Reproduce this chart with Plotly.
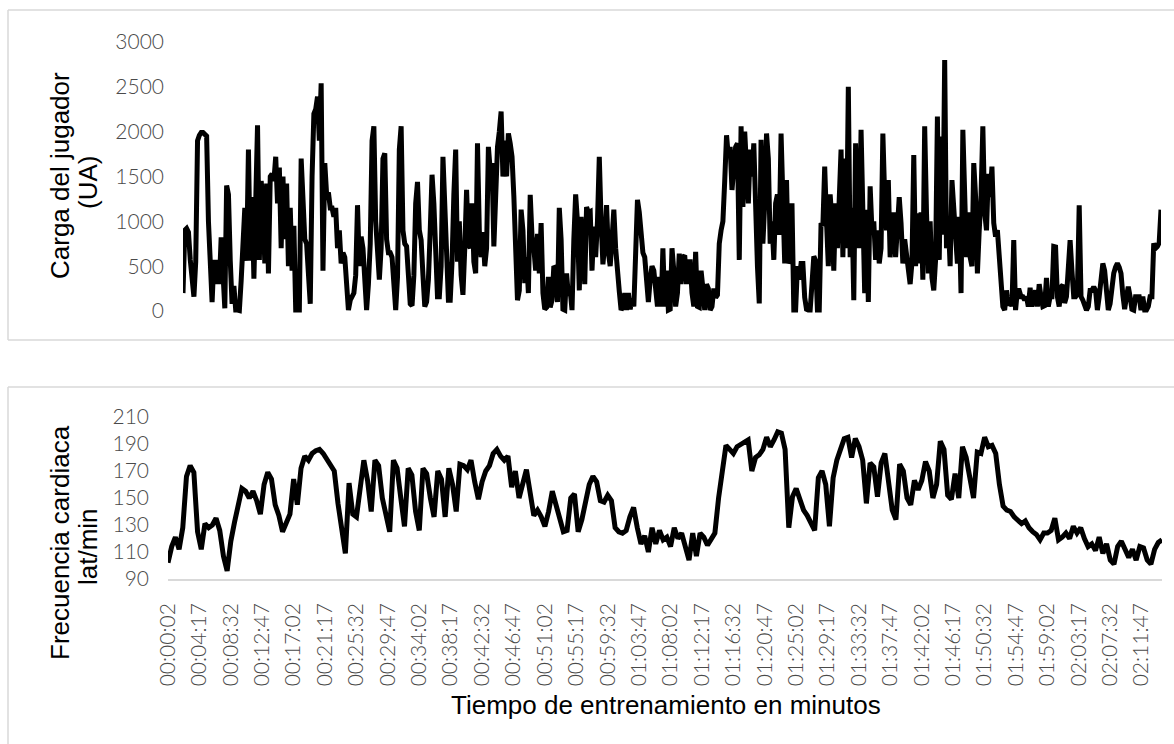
import plotly.graph_objects as go

W, H = 1174, 744

# Carga del jugador (UA), one reading every 15 s from 00:00:02
carga = [
    200, 900, 920, 880, 570, 300, 160, 550, 1900, 1960,
    1990, 1990, 1960, 1950, 1000, 400, 100, 570, 300, 570,
    300, 820, 500, 30, 1400, 1300, 560, 80, 280, 10,
    10, 5, 340, 900, 1150, 560, 1800, 560, 1270, 360,
    1350, 2070, 570, 1450, 1200, 530, 1420, 420, 1500, 1530,
    1450, 1720, 1200, 1600, 700, 1500, 800, 1420, 500, 1150,
    450, 950, 10, 10, 10, 1700, 1300, 800, 750, 300,
    80, 1500, 2200, 2250, 2390, 1900, 2540, 450, 1650, 1300,
    1320, 1150, 1150, 1050, 1150, 700, 900, 530, 650, 600,
    250, 10, 120, 180, 200, 400, 1180, 500, 830, 700,
    400, 10, 300, 750, 1900, 2060, 1000, 650, 350, 700,
    1700, 1760, 800, 650, 650, 600, 380, 10, 380, 1800,
    2060, 900, 750, 720, 400, 80, 60, 400, 1200, 1440,
    900, 790, 400, 50, 100, 350, 900, 1520, 1200, 700,
    160, 160, 500, 1720, 1100, 700, 120, 120, 550, 1300,
    1800, 550, 1000, 400, 180, 700, 1350, 750, 700, 1200,
    550, 420, 1870, 900, 600, 880, 500, 700, 1830, 1570,
    1650, 720, 1420, 1830, 2000, 2225, 1500, 1900, 1500, 1980,
    1870, 1720, 1280, 530, 120, 230, 1130, 900, 310, 600,
    200, 1295, 830, 700, 450, 860, 420, 980, 200, 20,
    40, 380, 40, 120, 500, 480, 100, 1150, 800, 20,
    10, 420, 170, 230, 10, 800, 1300, 1000, 230, 1050,
    530, 300, 1160, 1100, 1110, 450, 940, 600, 1000, 1720,
    1000, 520, 750, 1180, 650, 500, 800, 1130, 700, 400,
    220, 10, 50, 200, 10, 200, 20, 140, 50, 640,
    1240, 1100, 900, 650, 600, 300, 100, 350, 500, 450,
    200, 50, 380, 50, 700, 50, 450, 10, 20, 700,
    450, 50, 200, 640, 300, 600, 620, 300, 550, 550,
    200, 50, 660, 50, 40, 450, 250, 10, 300, 250,
    10, 50, 250, 150, 180, 750, 900, 1000, 1450, 1960,
    1720, 1830, 1350, 1600, 1830, 1870, 570, 2060, 1160, 2000,
    1550, 1200, 1800, 1500, 1870, 900, 500, 85, 1910, 750,
    1200, 1980, 1700, 750, 1000, 570, 1200, 1300, 850, 1980,
    1400, 530, 1460, 530, 600, 1200, 10, 10, 500, 350,
    530, 530, 150, 20, 10, 10, 300, 610, 560, 10,
    10, 980, 950, 1610, 1000, 500, 1300, 1000, 450, 1200,
    700, 1250, 1800, 600, 1700, 700, 2500, 600, 1150, 120,
    1870, 1150, 700, 2020, 1130, 200, 1130, 100, 1390, 900,
    1000, 570, 900, 530, 700, 1980, 1270, 900, 1460, 600,
    870, 1100, 600, 900, 1270, 980, 530, 800, 600, 450,
    300, 540, 1740, 500, 1090, 530, 1100, 350, 2060, 1100,
    420, 1000, 370, 230, 570, 2170, 570, 1945, 850, 2800,
    700, 1000, 500, 1460, 1200, 830, 530, 1050, 200, 2020,
    1400, 600, 1100, 600, 500, 1650, 1280, 420, 900, 1280,
    2060, 1100, 900, 1530, 1270, 1610, 980, 830, 900, 600,
    180, 50, 10, 230, 60, 150, 50, 790, 10, 230,
    230, 160, 160, 120, 160, 50, 260, 50, 160, 230,
    50, 300, 160, 50, 60, 370, 50, 160, 160, 720,
    715, 160, 50, 270, 290, 90, 160, 600, 790, 450,
    160, 160, 190, 1180, 160, 120, 50, 10, 50, 230,
    230, 270, 230, 10, 160, 370, 530, 450, 200, 10,
    80, 330, 420, 490, 530, 490, 420, 180, 20, 160,
    270, 160, 20, 10, 160, 160, 160, 10, 160, 10,
    10, 50, 160, 160, 755, 700, 720, 760, 1130,
]

# Frecuencia cardiaca (lat/min), one reading every 30 s from 00:00:02
fc = [
    102, 114, 121, 112, 128, 166, 174, 169, 125, 112,
    131, 128, 130, 135, 126, 107, 96, 118, 132, 147,
    157, 155, 150, 155, 148, 138, 160, 169, 164, 145,
    137, 125, 132, 138, 164, 145, 172, 181, 178, 183,
    185, 186, 183, 179, 174, 170, 146, 124, 109, 161,
    138, 136, 160, 178, 163, 140, 178, 174, 150, 136,
    125, 178, 172, 150, 129, 172, 167, 140, 126, 172,
    168, 150, 136, 170, 164, 136, 172, 160, 140, 175,
    174, 171, 178, 162, 149, 162, 170, 174, 183, 186,
    181, 178, 181, 158, 170, 150, 162, 171, 154, 137,
    141, 136, 129, 140, 155, 145, 132, 125, 126, 150,
    153, 125, 134, 148, 160, 166, 162, 148, 147, 152,
    148, 128, 125, 124, 126, 136, 143, 128, 116, 122,
    110, 128, 116, 126, 119, 121, 114, 128, 120, 124,
    114, 104, 124, 107, 124, 121, 115, 119, 124, 150,
    172, 189, 186, 183, 188, 190, 192, 193, 170, 180,
    182, 186, 195, 188, 193, 199, 198, 186, 128, 151,
    157, 150, 141, 137, 131, 126, 165, 170, 160, 129,
    165, 178, 186, 194, 195, 180, 194, 188, 178, 146,
    176, 173, 151, 176, 183, 161, 141, 134, 175, 170,
    150, 145, 163, 156, 163, 177, 170, 150, 160, 192,
    186, 152, 149, 168, 150, 188, 180, 165, 150, 184,
    183, 195, 188, 189, 183, 160, 144, 141, 140, 136,
    134, 131, 133, 128, 125, 123, 119, 124, 124, 126,
    135, 119, 121, 124, 120, 129, 124, 128, 120, 114,
    116, 111, 121, 109, 116, 104, 101, 114, 118, 112,
    106, 112, 104, 114, 113, 104, 101, 112, 117, 119,
]

tick_labels = [
    "00:00:02", "00:04:17", "00:08:32", "00:12:47", "00:17:02", "00:21:17",
    "00:25:32", "00:29:47", "00:34:02", "00:38:17", "00:42:32", "00:46:47",
    "00:51:02", "00:55:17", "00:59:32", "01:03:47", "01:08:02", "01:12:17",
    "01:16:32", "01:20:47", "01:25:02", "01:29:17", "01:33:32", "01:37:47",
    "01:42:02", "01:46:17", "01:50:32", "01:54:47", "01:59:02", "02:03:17",
    "02:07:32", "02:11:47",
]
carga_ticks = [0, 500, 1000, 1500, 2000, 2500, 3000]
fc_ticks = [90, 110, 130, 150, 170, 190, 210]

carga_step = 15
fc_step = 30
start = 2


def to_sec(s):
    h, m, sec = (int(p) for p in s.split(":"))
    return h * 3600 + m * 60 + sec


carga_t = [start + carga_step * i for i in range(len(carga))]
fc_t = [start + fc_step * i for i in range(len(fc))]
tick_vals = [to_sec(s) for s in tick_labels]
t_end = max(carga_t[-1], fc_t[-1])


def px(x):
    return x / W


def py(y):
    return 1 - y / H


TICK_FONT = dict(family="Lato", size=21, color="#4a4a4a", weight=300)
TITLE_FONT = dict(family="Liberation Sans, Arial", size=26, color="#000000")
LINE = dict(color="#000000", width=5)

fig = go.Figure()
fig.add_trace(go.Scatter(x=carga_t, y=carga, mode="lines", line=LINE,
                         xaxis="x", yaxis="y", hoverinfo="skip"))
fig.add_trace(go.Scatter(x=fc_t, y=fc, mode="lines", line=LINE,
                         xaxis="x2", yaxis="y2", hoverinfo="skip"))

# top panel: 0 at y=311, 3000 at y=42 -> extend range slightly below 0
top_px_per_unit = (311 - 42) / 3000
low = -100
fig.update_layout(
    width=W, height=H,
    margin=dict(l=0, r=0, t=0, b=0, pad=0, autoexpand=False),
    paper_bgcolor="white", plot_bgcolor="white",
    showlegend=False,
    xaxis=dict(domain=[px(183), px(1161)], range=[start, t_end], anchor="y",
               showticklabels=False, showgrid=False, zeroline=False,
               showline=False, ticks="", automargin=False),
    yaxis=dict(domain=[py(311 + (-low) * top_px_per_unit), py(42)],
               range=[low, 3000], anchor="x", automargin=False,
               tickvals=carga_ticks, ticktext=[str(v) for v in carga_ticks],
               tickfont=TICK_FONT, showgrid=False, zeroline=False,
               showline=False, ticks="", ticklabelstandoff=18),
    xaxis2=dict(domain=[px(168), px(1162)], range=[start, t_end], anchor="y2",
                tickvals=tick_vals, ticktext=tick_labels, tickangle=-90,
                tickfont=TICK_FONT, showgrid=False, zeroline=False,
                showline=True, linecolor="#d9d9d9", linewidth=1.5,
                ticks="", ticklabelstandoff=14, automargin=False),
    yaxis2=dict(domain=[py(579), py(417)], range=[90, 210], anchor="x2",
                tickvals=fc_ticks, ticktext=[str(v) for v in fc_ticks],
                tickfont=TICK_FONT, showgrid=False, zeroline=False,
                showline=False, ticks="", ticklabelstandoff=18,
                automargin=False),
)

annots = [
    ("Carga del jugador", 60, 176, -90),
    ("(UA)", 88, 183, -90),
    ("Frecuencia cardiaca", 60, 543, -90),
    ("lat/min", 88, 547, -90),
    ("Tiempo de entrenamiento en minutos", 666, 705, 0),
]
for text, x, y, ang in annots:
    fig.add_annotation(text=text, x=px(x), y=py(y), xref="paper", yref="paper",
                       showarrow=False, textangle=ang, xanchor="center",
                       yanchor="middle", font=TITLE_FONT)

# panel frames (open towards the right / bottom edge of the picture)
border = dict(color="#d9d9d9", width=1.5)
frame_lines = [
    (8, 10, W, 10), (8, 10, 8, 340), (8, 340, W, 340),
    (8, 387, W, 387), (8, 387, 8, H),
]
for x0, y0, x1, y1 in frame_lines:
    fig.add_shape(type="line", xref="paper", yref="paper",
                  x0=px(x0), y0=py(y0), x1=px(x1), y1=py(y1), line=border)

fig.write_html("out.html", config={"displayModeBar": False},
               post_script="document.body.style.margin='0';")
